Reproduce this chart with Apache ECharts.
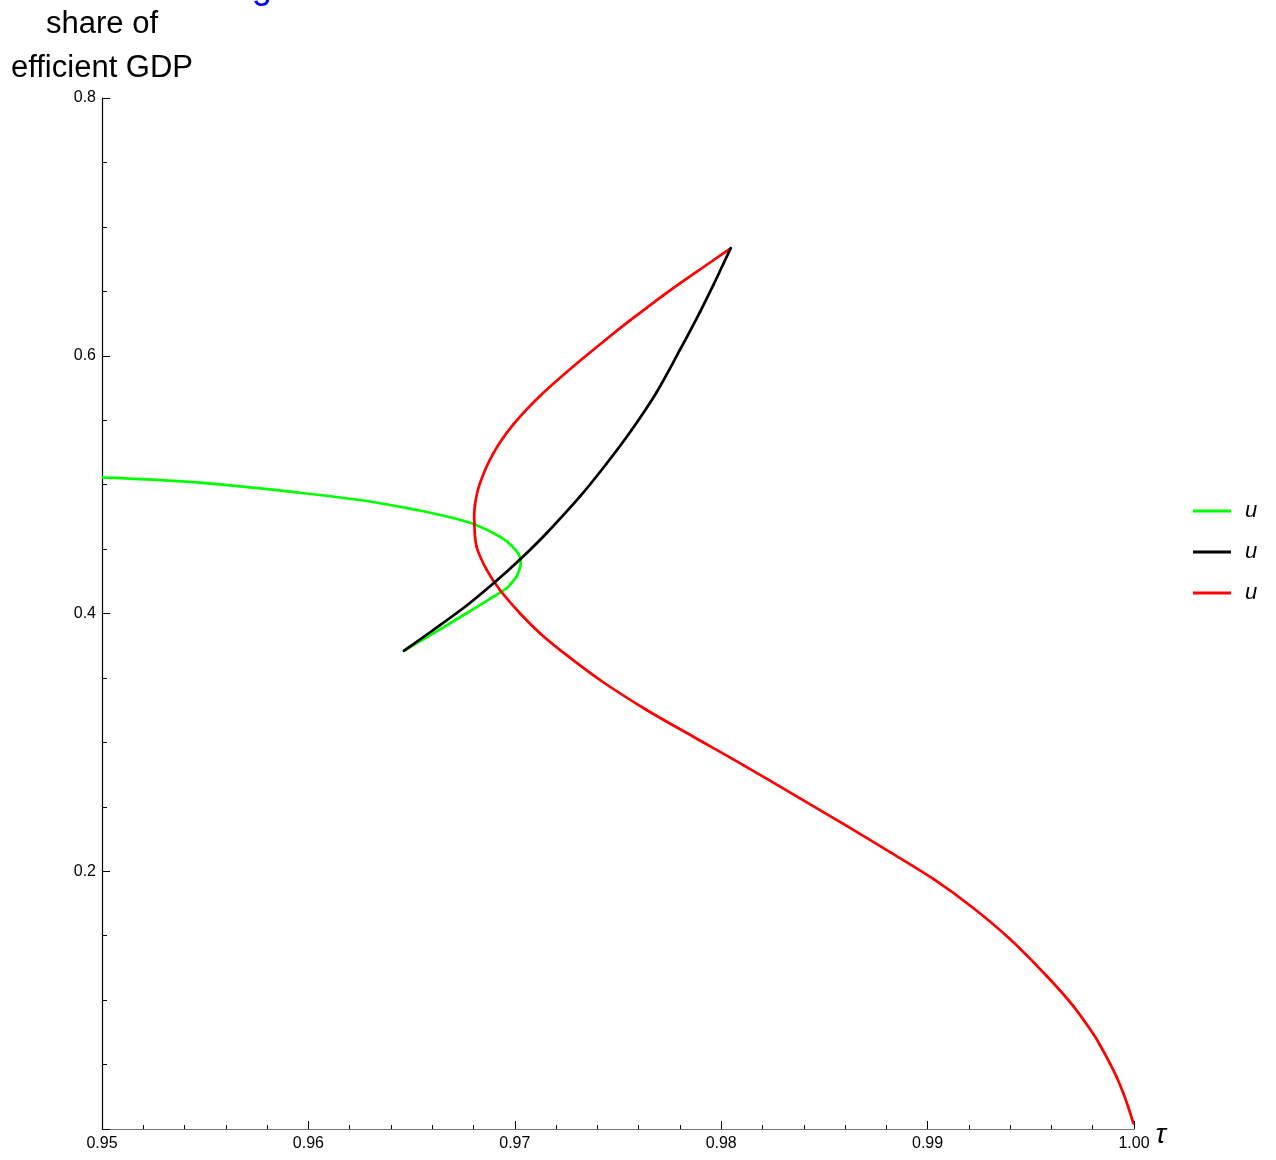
<!DOCTYPE html>
<html>
<head>
<meta charset="utf-8">
<title>share of efficient GDP vs τ</title>
<script src="https://cdn.jsdelivr.net/npm/echarts@6/dist/echarts.min.js"></script>
<style>
  html, body { margin: 0; padding: 0; background: #fff; }
  #chart { width: 1276px; height: 1160px; }
</style>
</head>
<body>
<div id="chart"></div>
<script>
// Branches of the solution, as [τ, share of efficient GDP] pairs in drawing order.
const greenBranch = [
  [0.95000, 0.5057], [0.95475, 0.5015], [0.95959, 0.4937], [0.96282, 0.4873],
  [0.96525, 0.4803], [0.96686, 0.4747], [0.96807, 0.4691], [0.96928, 0.4596],
  [0.96986, 0.4524], [0.97018, 0.4462], [0.97029, 0.4402], [0.97023, 0.4345],
  [0.97007, 0.4283], [0.96982, 0.4233], [0.96961, 0.4196], [0.96896, 0.4130],
  [0.96767, 0.4002], [0.96605, 0.3846], [0.96463, 0.3711]
];
const blackBranch = [
  [0.96463, 0.3711], [0.96605, 0.3872], [0.96767, 0.4062], [0.96904, 0.4244],
  [0.97025, 0.4419], [0.97155, 0.4625], [0.97316, 0.4908], [0.97445, 0.5164],
  [0.97566, 0.5424], [0.97688, 0.5719], [0.97800, 0.6045], [0.97897, 0.6339],
  [0.97962, 0.6549], [0.98010, 0.6712], [0.98046, 0.6834]
];
const redBranch = [
  [0.98046, 0.6834], [0.97962, 0.6741], [0.97881, 0.6651], [0.97800, 0.6561],
  [0.97719, 0.6468], [0.97639, 0.6372], [0.97558, 0.6274], [0.97445, 0.6130],
  [0.97283, 0.5917], [0.97122, 0.5688], [0.96993, 0.5467], [0.96896, 0.5243],
  [0.96831, 0.5010], [0.96807, 0.4842], [0.96804, 0.4700], [0.96815, 0.4518],
  [0.96864, 0.4338], [0.96928, 0.4182], [0.97025, 0.4002], [0.97122, 0.3846],
  [0.97219, 0.3717], [0.97413, 0.3484], [0.97639, 0.3251], [0.97865, 0.3044],
  [0.98107, 0.2824], [0.98382, 0.2565], [0.98592, 0.2367], [0.98818, 0.2149],
  [0.99028, 0.1940], [0.99221, 0.1715], [0.99399, 0.1474], [0.99577, 0.1187],
  [0.99706, 0.0954], [0.99803, 0.0737], [0.99835, 0.0652], [0.99884, 0.0508],
  [0.99916, 0.0403], [0.99948, 0.0279], [0.99972, 0.0171], [0.99997, 0.0044]
];

const xTicks = { min: 0.95, max: 1.0, step: 0.01 };
const yTicks = { min: 0, max: 0.8, step: 0.2 };

const legendLabels = ['u', 'u', 'u'];
const seriesKeys = ['u1', 'u2', 'u3'];
const seriesColors = ['#00ff00', '#000000', '#ff0000'];
const seriesData = [greenBranch, blackBranch, redBranch];
const seriesZ = [2, 4, 3];
const curveWidth = 2.7;

const chart = echarts.init(document.getElementById('chart'), null, { renderer: 'canvas' });

const font = '"Liberation Sans", Arial, sans-serif';

// Draws one branch as a Catmull-Rom spline through its points, placed with the axes' scales.
function branchRenderer(points, color) {
  return function (params, api) {
    if (params.dataIndex !== 0) return null;
    const p = points.map(function (d) { return api.coord(d); });
    const children = [];
    for (let i = 0; i < p.length - 1; i++) {
      const p0 = p[i - 1] || p[i];
      const p1 = p[i];
      const p2 = p[i + 1];
      const p3 = p[i + 2] || p[i + 1];
      children.push({
        type: 'bezierCurve',
        shape: {
          x1: p1[0], y1: p1[1],
          cpx1: p1[0] + (p2[0] - p0[0]) / 6, cpy1: p1[1] + (p2[1] - p0[1]) / 6,
          cpx2: p2[0] - (p3[0] - p1[0]) / 6, cpy2: p2[1] - (p3[1] - p1[1]) / 6,
          x2: p2[0], y2: p2[1]
        },
        style: { stroke: color, lineWidth: curveWidth, fill: null, lineCap: 'round', lineJoin: 'round' },
        silent: true
      });
    }
    return { type: 'group', children: children };
  };
}

chart.setOption({
  animation: false,
  backgroundColor: '#ffffff',
  textStyle: { fontFamily: font },
  grid: { left: 102, right: 142, top: 98, bottom: 31, containLabel: false },
  legend: {
    orient: 'vertical',
    left: 1193,
    top: 500,
    padding: 0,
    itemWidth: 38,
    itemHeight: 3,
    itemGap: 19,
    icon: 'rect',
    data: seriesKeys,
    formatter: function (name) { return legendLabels[seriesKeys.indexOf(name)]; },
    textStyle: { fontFamily: font, fontStyle: 'italic', fontSize: 22, lineHeight: 22, color: '#000', padding: [0, 0, 0, 9] }
  },
  graphic: [{
    type: 'text',
    left: 252,
    top: -30,
    silent: true,
    style: { text: 'g', fill: '#0000ff', font: '36px ' + font }
  }],
  xAxis: {
    type: 'value',
    min: xTicks.min,
    max: xTicks.max,
    interval: xTicks.step,
    name: 'τ',
    nameLocation: 'end',
    nameGap: 14,
    nameTextStyle: { fontFamily: font, fontStyle: 'italic', fontSize: 28, lineHeight: 12, color: '#000', verticalAlign: 'top' },
    axisLine: { onZero: false, lineStyle: { color: '#777', width: 1.2 } },
    axisTick: { inside: true, length: 8, lineStyle: { color: '#000', width: 1 } },
    minorTick: { show: true, splitNumber: 5, length: 4, lineStyle: { color: '#000', width: 1 } },
    axisLabel: {
      margin: 7,
      fontSize: 16,
      color: '#000',
      formatter: function (v) { return v.toFixed(2); }
    },
    splitLine: { show: false }
  },
  yAxis: {
    type: 'value',
    min: yTicks.min,
    max: yTicks.max,
    interval: yTicks.step,
    name: 'share of\nefficient GDP',
    nameLocation: 'end',
    nameGap: 8,
    nameTextStyle: { fontFamily: font, fontSize: 31, lineHeight: 44, color: '#000', align: 'center', verticalAlign: 'bottom' },
    axisLine: { onZero: false, lineStyle: { color: '#000', width: 1.2 } },
    axisTick: { inside: true, length: 8, lineStyle: { color: '#000', width: 1 } },
    minorTick: { show: true, splitNumber: 4, length: 5, lineStyle: { color: '#000', width: 1 } },
    axisLabel: {
      margin: 6,
      fontSize: 16,
      color: '#000',
      formatter: function (v) { return v === 0 ? '' : v.toFixed(1); }
    },
    splitLine: { show: false }
  },
  series: seriesKeys.map(function (key, i) {
    return {
      name: key,
      type: 'custom',
      data: seriesData[i],
      z: seriesZ[i],
      clip: true,
      itemStyle: { color: seriesColors[i] },
      encode: { x: 0, y: 1 },
      renderItem: branchRenderer(seriesData[i], seriesColors[i])
    };
  })
});
</script>
</body>
</html>
